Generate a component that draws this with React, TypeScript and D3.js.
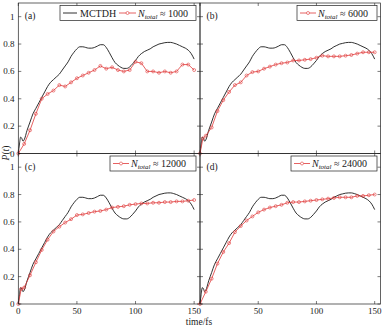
import React from 'react';
import * as d3 from 'd3';

// MCTDH reference curve (same in every panel)
const tMctdh = [0, 1, 2, 3, 4, 5, 7.5, 10, 12.5, 15, 17.5, 20, 22.5, 25, 27.5, 30, 32.5, 35, 37.5, 40, 42.5, 45, 47.5, 50, 52.5, 55, 57.5, 60, 62.5, 65, 67.5, 70, 72.5, 75, 77.5, 80, 82.5, 85, 87.5, 90, 92.5, 95, 97.5, 100, 102.5, 105, 107.5, 110, 112.5, 115, 117.5, 120, 122.5, 125, 127.5, 130, 132.5, 135, 137.5, 140, 142.5, 145, 147.5, 150];
const mctdh = [0, 0.07, 0.12, 0.11, 0.09, 0.1, 0.17, 0.23, 0.29, 0.33, 0.37, 0.41, 0.45, 0.49, 0.52, 0.54, 0.56, 0.58, 0.61, 0.64, 0.67, 0.71, 0.74, 0.765, 0.78, 0.78, 0.775, 0.77, 0.77, 0.775, 0.785, 0.795, 0.795, 0.775, 0.74, 0.7, 0.665, 0.645, 0.63, 0.622, 0.622, 0.633, 0.655, 0.68, 0.71, 0.73, 0.745, 0.755, 0.765, 0.78, 0.79, 0.8, 0.805, 0.81, 0.812, 0.812, 0.807, 0.8, 0.79, 0.78, 0.77, 0.755, 0.73, 0.69];

// N_total ≈ 1000
const tA = [0, 5, 10, 15, 20, 25, 30, 35, 40, 45, 50, 55, 60, 65, 70, 75, 80, 85, 90, 95, 100, 105, 110, 115, 120, 125, 130, 135, 140, 145, 150];
const nA = [0, 0.07, 0.17, 0.29, 0.4, 0.435, 0.46, 0.5, 0.49, 0.52, 0.55, 0.57, 0.59, 0.61, 0.64, 0.62, 0.63, 0.61, 0.6, 0.61, 0.67, 0.66, 0.6, 0.6, 0.59, 0.6, 0.59, 0.6, 0.65, 0.65, 0.61];

// N_total ≈ 6000
const tB = [0, 2.5, 5, 10, 15, 20, 25, 30, 35, 40, 45, 50, 55, 60, 65, 70, 75, 80, 85, 90, 95, 100, 105, 110, 115, 120, 125, 130, 135, 140, 145, 150];
const nB = [0, 0.11, 0.13, 0.19, 0.31, 0.39, 0.45, 0.5, 0.52, 0.57, 0.595, 0.6, 0.62, 0.635, 0.65, 0.66, 0.665, 0.68, 0.68, 0.685, 0.69, 0.7, 0.715, 0.71, 0.71, 0.71, 0.715, 0.72, 0.73, 0.74, 0.74, 0.74];

// N_total ≈ 12000
const tC = [0, 2.5, 5, 10, 15, 20, 25, 30, 35, 40, 45, 50, 55, 60, 65, 70, 75, 80, 85, 90, 95, 100, 105, 110, 115, 120, 125, 130, 135, 140, 145, 150];
const nC = [0, 0.11, 0.12, 0.21, 0.305, 0.395, 0.47, 0.53, 0.565, 0.595, 0.62, 0.65, 0.655, 0.665, 0.675, 0.68, 0.69, 0.705, 0.71, 0.715, 0.725, 0.73, 0.735, 0.735, 0.74, 0.74, 0.745, 0.745, 0.75, 0.75, 0.755, 0.76];

// N_total ≈ 24000
const tD = [0, 5, 10, 15, 20, 25, 30, 35, 40, 45, 50, 55, 60, 65, 70, 75, 80, 85, 90, 95, 100, 105, 110, 115, 120, 125, 130, 135, 140, 145, 150];
const nD = [0, 0.09, 0.185, 0.295, 0.38, 0.445, 0.525, 0.57, 0.61, 0.64, 0.67, 0.69, 0.705, 0.715, 0.725, 0.74, 0.745, 0.745, 0.75, 0.755, 0.76, 0.765, 0.77, 0.775, 0.78, 0.78, 0.78, 0.79, 0.79, 0.795, 0.8];

const xTicks = [0, 50, 100, 150];
const yTicks = [0, 0.2, 0.4, 0.6, 0.8, 1];
const yTickLabels = ['0', '0.2', '0.4', '0.6', '0.8', '1'];
const panelLabels = ['(a)', '(b)', '(c)', '(d)'];
const legendCounts = ['1000', '6000', '12000', '24000'];
const mctdhName = 'MCTDH';
const xAxisTitle = 'time/fs';

const RED = '#e03a3a';
const INK = '#1a1a1a';
const FONT = 'Liberation Serif, DejaVu Serif, serif';
const serif = { fontFamily: FONT } as const;

type Panel = {
  label: string; count: string; t: number[]; v: number[];
  left: number; right: number; top: number; bottom: number;
  yLabels: boolean; xLabels: boolean; skipZero: boolean;
  legendX: number; legendW: number; withMctdh: boolean;
};

const panels: Panel[] = [
  { label: panelLabels[0], count: legendCounts[0], t: tA, v: nA, left: 18.3, right: 200, top: 3, bottom: 153.5, yLabels: true, xLabels: false, skipZero: false, legendX: 60, legendW: 136, withMctdh: true },
  { label: panelLabels[1], count: legendCounts[1], t: tB, v: nB, left: 200, right: 380.5, top: 3, bottom: 153.5, yLabels: false, xLabels: false, skipZero: true, legendX: 297, legendW: 80, withMctdh: false },
  { label: panelLabels[2], count: legendCounts[2], t: tC, v: nC, left: 18.3, right: 200, top: 153.5, bottom: 304, yLabels: true, xLabels: true, skipZero: false, legendX: 110, legendW: 86, withMctdh: false },
  { label: panelLabels[3], count: legendCounts[3], t: tD, v: nD, left: 200, right: 380.5, top: 153.5, bottom: 304, yLabels: false, xLabels: true, skipZero: true, legendX: 291, legendW: 86, withMctdh: false },
];

function NLabel({ x, y, count }: { x: number; y: number; count: string }) {
  return (
    <text x={x} y={y} style={serif} fontSize={10} fill={INK}>
      <tspan fontStyle="italic">N</tspan>
      <tspan fontStyle="italic" fontSize={7} dy={2}>total</tspan>
      <tspan dy={-2}>{' \u2248 ' + count}</tspan>
    </text>
  );
}

function PanelView({ p }: { p: Panel }) {
  const x = d3.scaleLinear().domain([0, 155]).range([p.left, p.right]);
  const y = d3.scaleLinear().domain([0, 1.1]).range([p.bottom, p.top]);
  const blackLine = d3.line<number>().x((_, i) => x(tMctdh[i])).y((d) => y(d)).curve(d3.curveMonotoneX)(mctdh) || '';
  const redLine = d3.line<number>().x((_, i) => x(p.t[i])).y((d) => y(d))(p.v) || '';
  const tl = 3;
  const ly = p.top + 2.5;
  const lh = 15;
  const lmid = ly + lh / 2;
  return (
    <g>
      <path d={blackLine} fill="none" stroke={INK} strokeWidth={0.9} />
      <path d={redLine} fill="none" stroke={RED} strokeWidth={0.8} />
      {p.v.map((d, i) => (
        <circle key={i} cx={x(p.t[i])} cy={y(d)} r={1.5} fill="none" stroke={RED} strokeWidth={0.6} />
      ))}
      <rect x={p.left} y={p.top} width={p.right - p.left} height={p.bottom - p.top} fill="none" stroke="#222" strokeWidth={0.7} />
      {xTicks.map((t) => (
        <g key={'xt' + t}>
          <line x1={x(t)} x2={x(t)} y1={p.bottom} y2={p.bottom - tl} stroke="#222" strokeWidth={0.6} />
          <line x1={x(t)} x2={x(t)} y1={p.top} y2={p.top + tl} stroke="#222" strokeWidth={0.6} />
          {p.xLabels && !(p.skipZero && t === 0) && (
            <text x={x(t)} y={p.bottom + 9.5} textAnchor="middle" style={serif} fontSize={9} fill={INK}>{t}</text>
          )}
        </g>
      ))}
      {yTicks.map((v, i) => (
        <g key={'yt' + i}>
          <line x1={p.left} x2={p.left + tl} y1={y(v)} y2={y(v)} stroke="#222" strokeWidth={0.6} />
          <line x1={p.right} x2={p.right - tl} y1={y(v)} y2={y(v)} stroke="#222" strokeWidth={0.6} />
          {p.yLabels && (
            <text x={14.5} y={y(v) + 3} textAnchor="end" style={serif} fontSize={9} fill={INK}>{yTickLabels[i]}</text>
          )}
        </g>
      ))}
      <text x={p.left + 6.5} y={p.top + 16} style={serif} fontSize={9.5} fill={INK}>{p.label}</text>
      <rect x={p.legendX} y={ly} width={p.legendW} height={lh} fill="white" stroke="#222" strokeWidth={0.7} />
      {p.withMctdh ? (
        <g>
          <line x1={p.legendX + 3} x2={p.legendX + 17} y1={lmid} y2={lmid} stroke={INK} strokeWidth={0.9} />
          <text x={p.legendX + 20} y={lmid + 3.5} style={serif} fontSize={10} fill={INK}>{mctdhName}</text>
          <line x1={p.legendX + 59} x2={p.legendX + 76} y1={lmid} y2={lmid} stroke={RED} strokeWidth={0.8} />
          <circle cx={p.legendX + 67.5} cy={lmid} r={1.5} fill="white" stroke={RED} strokeWidth={0.6} />
          <NLabel x={p.legendX + 78} y={lmid + 3.5} count={p.count} />
        </g>
      ) : (
        <g>
          <line x1={p.legendX + 3} x2={p.legendX + 19} y1={lmid} y2={lmid} stroke={RED} strokeWidth={0.8} />
          <circle cx={p.legendX + 11} cy={lmid} r={1.5} fill="white" stroke={RED} strokeWidth={0.6} />
          <NLabel x={p.legendX + 21} y={lmid + 3.5} count={p.count} />
        </g>
      )}
    </g>
  );
}

export default function App() {
  return (
    <svg width={383} height={330} style={{ position: 'absolute', left: 0, top: 0, background: 'white' }}>
      <rect x={0} y={0} width={383} height={330} fill="white" />
      {panels.map((p, i) => (
        <PanelView key={i} p={p} />
      ))}
      <text x={199} y={325} textAnchor="middle" style={serif} fontSize={9.5} fill={INK}>{xAxisTitle}</text>
      <text transform="translate(8.5,153) rotate(-90)" textAnchor="middle" style={serif} fontSize={9.5} fill={INK}>
        <tspan fontStyle="italic">P</tspan>
        <tspan>(</tspan>
        <tspan fontStyle="italic">t</tspan>
        <tspan>)</tspan>
      </text>
    </svg>
  );
}
